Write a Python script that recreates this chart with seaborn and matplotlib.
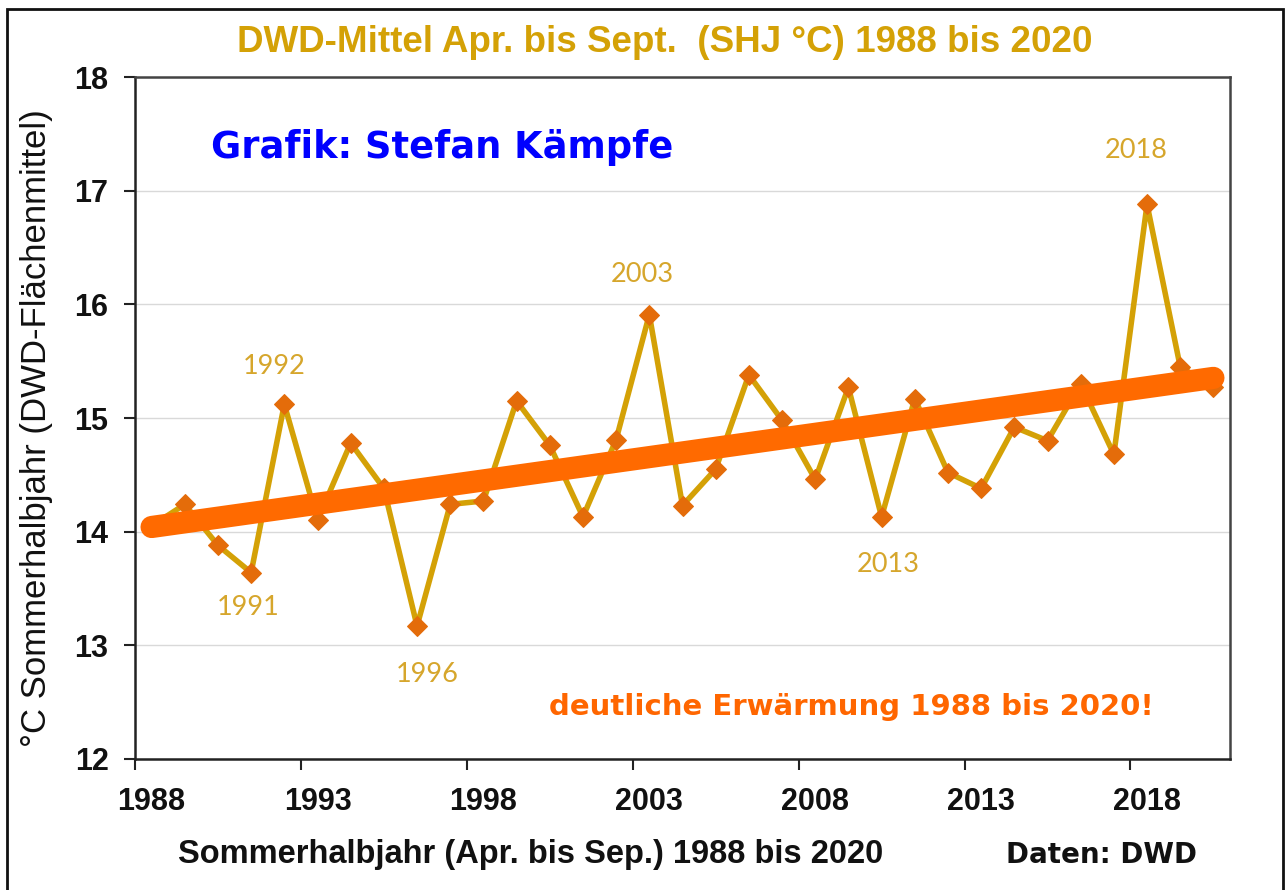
#!/usr/bin/env python3
"""DWD summer half-year (Apr-Sep) mean temperature 1988-2020 with linear trend."""
import matplotlib

matplotlib.use("Agg")
import matplotlib.pyplot as plt
import pandas as pd
import seaborn as sns
from matplotlib.patches import Rectangle

YEARS = list(range(1988, 2021))
TEMPS = [
    14.05, 14.24, 13.88, 13.64, 15.12, 14.10, 14.78, 14.38, 13.17, 14.24,
    14.27, 15.15, 14.76, 14.13, 14.81, 15.91, 14.23, 14.55, 15.38, 14.98,
    14.46, 15.27, 14.13, 15.17, 14.52, 14.38, 14.92, 14.80, 15.30, 14.68,
    16.88, 15.45, 15.27,
]
TICK_YEARS = [1988, 1993, 1998, 2003, 2008, 2013, 2018]
Y_TICKS = [12, 13, 14, 15, 16, 17, 18]

# year labels written next to selected points (text, year of the point it sits at)
NOTE_TEXTS = ["1991", "1992", "1996", "2003", "2013", "2018"]
NOTE_AT = [1991, 1992, 1996, 2003, 2010, 2018]
NOTE_OFFSETS = [(-2, -25), (-7, 27), (7, -35), (-5, 29), (5, -34), (-8, 39)]

GOLD = "#D4A106"
NOTE_GOLD = "#D6A62C"
MARKER = "#E46C0A"
TREND = "#FF6A00"

df = pd.DataFrame({"year": YEARS, "temp": TEMPS})

sns.set_theme(style="white")
plt.rcParams["font.family"] = ["Liberation Sans", "DejaVu Sans"]

fig = plt.figure(figsize=(12.85, 8.9), dpi=100)
ax = fig.add_axes([135 / 1285, 1 - 759 / 890, 1095 / 1285, 682 / 890])

ax.grid(axis="y", color="#d9d9d9", lw=1)
ax.set_axisbelow(True)

sns.lineplot(
    data=df, x="year", y="temp", ax=ax, color=GOLD, lw=4,
    marker="D", markersize=10, markerfacecolor=MARKER, markeredgecolor=MARKER,
    zorder=3,
)
sns.regplot(
    data=df, x="year", y="temp", ax=ax, scatter=False, ci=None,
    line_kws={"color": TREND, "lw": 16, "solid_capstyle": "round", "zorder": 4},
)

for txt, yr, (dx, dy) in zip(NOTE_TEXTS, NOTE_AT, NOTE_OFFSETS):
    ax.annotate(
        txt, xy=(yr, TEMPS[YEARS.index(yr)]), xytext=(dx, dy),
        textcoords="offset points", ha="center", va="center",
        fontsize=19.5, color=NOTE_GOLD, family=["Lato", "DejaVu Sans"], zorder=5,
    )

ax.set_xlim(YEARS[0] - 0.5, YEARS[-1] + 0.5)
ax.set_ylim(Y_TICKS[0], Y_TICKS[-1])
ax.set_xticks(TICK_YEARS)
ax.set_xticklabels([str(t) for t in TICK_YEARS])
ax.set_xticks([t - 0.5 for t in TICK_YEARS], minor=True)
ax.set_yticks(Y_TICKS)
ax.set_xlabel("")
ax.set_ylabel("")
ax.tick_params(axis="x", which="major", length=0, pad=20, labelsize=22)
ax.tick_params(axis="x", which="minor", length=8, width=1.5, color="#222222",
               direction="out", bottom=True)
ax.tick_params(axis="y", length=8, width=1.5, color="#222222", direction="out",
               pad=11, labelsize=22, left=True)
for lab in ax.get_xticklabels() + ax.get_yticklabels():
    lab.set_fontweight("bold")
    lab.set_color("#111111")

for side in ["left", "bottom"]:
    ax.spines[side].set_color("#222222")
    ax.spines[side].set_linewidth(1.8)
for side in ["top", "right"]:
    ax.spines[side].set_color("#444444")
    ax.spines[side].set_linewidth(1.8)

fig.patches.append(Rectangle((7 / 1285, -0.02), 1276 / 1285, 1.02 - 9 / 890,
                             transform=fig.transFigure, fill=False,
                             edgecolor="#111111", lw=2))

fig.text(0.5175, 1 - 43 / 890, "DWD-Mittel Apr. bis Sept.  (SHJ °C) 1988 bis 2020",
         ha="center", va="center", fontsize=26.5, fontweight="bold", color=GOLD)
fig.text(442 / 1285, 1 - 147 / 890, "Grafik: Stefan Kämpfe", ha="center", va="center",
         fontsize=26.5, fontweight="bold", color="#0000FF", family=["DejaVu Sans"])
fig.text(851 / 1285, 1 - 707 / 890, "deutliche Erwärmung 1988 bis 2020!",
         ha="center", va="center", fontsize=21, fontweight="bold", color="#FF6600",
         family=["DejaVu Sans"])
fig.text(37 / 1285, 1 - 428 / 890, "°C Sommerhalbjahr (DWD-Flächenmittel)",
         rotation=90, ha="center", va="center", fontsize=25, color="#111111")
fig.text(531 / 1285, 1 - 855 / 890, "Sommerhalbjahr (Apr. bis Sep.) 1988 bis 2020",
         ha="center", va="center", fontsize=23.5, fontweight="bold", color="#111111")
fig.text(1101 / 1285, 1 - 855 / 890, "Daten: DWD", ha="center", va="center",
         fontsize=20, fontweight="bold", color="#111111", family=["DejaVu Sans"])

fig.savefig("out.png", dpi=100)
